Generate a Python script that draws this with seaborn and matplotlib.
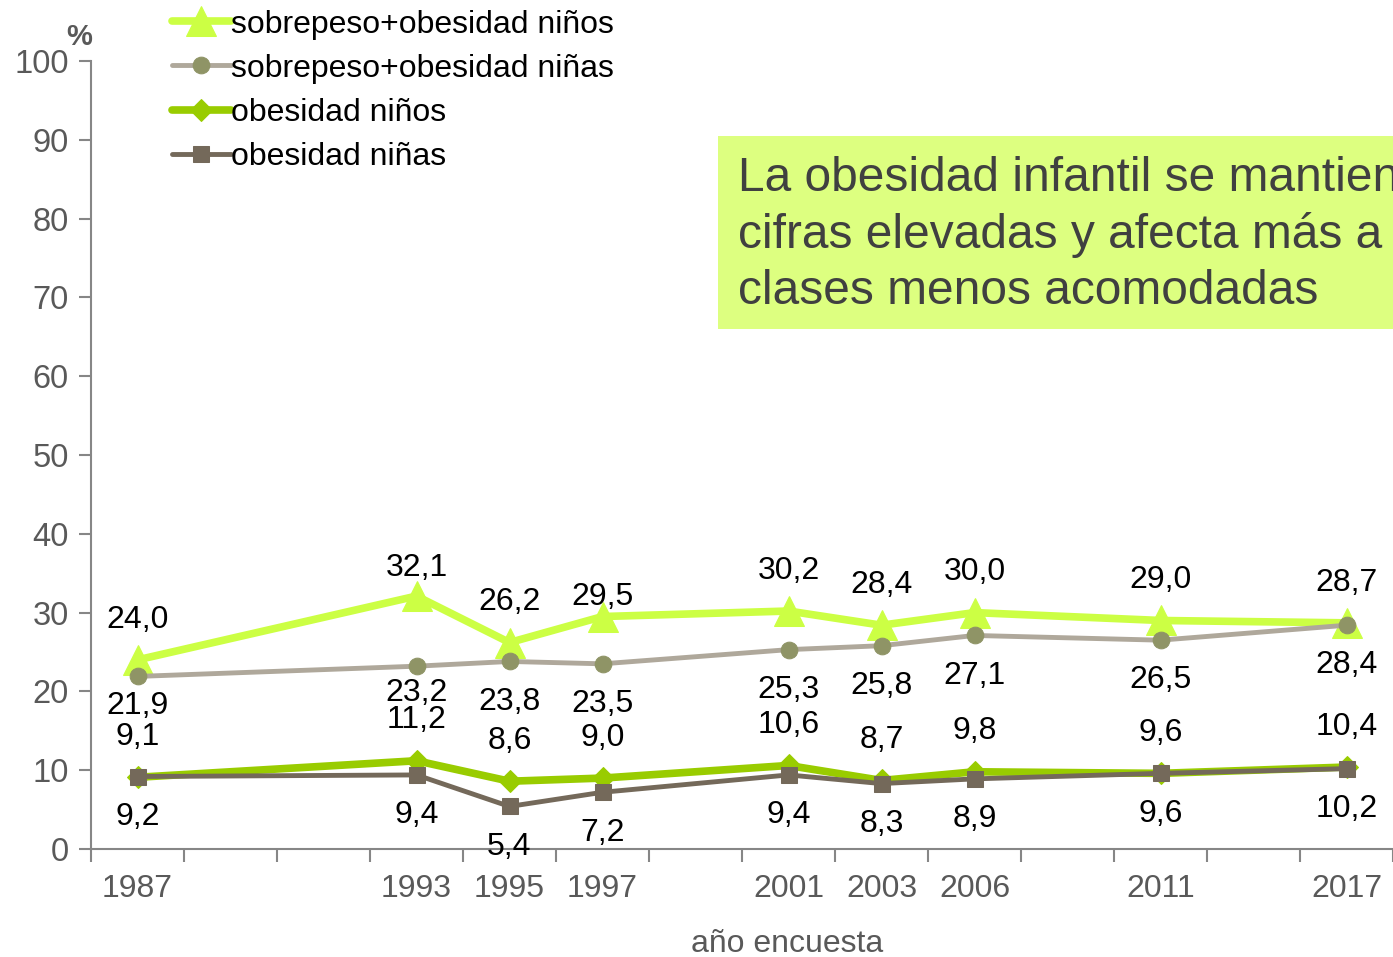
import numpy as np
import pandas as pd
import seaborn as sns
import matplotlib.pyplot as plt
from matplotlib.patches import Rectangle

# category axis of the original chart (blank slots included)
categories = ['1987', '', '', '1993', '1995', '1997', '', '2001', '2003', '2006', '', '2011', '', '2017']
years = ['1987', '1993', '1995', '1997', '2001', '2003', '2006', '2011', '2017']

sob_ninos = [24.0, 32.1, 26.2, 29.5, 30.2, 28.4, 30.0, 29.0, 28.7]
sob_ninas = [21.9, 23.2, 23.8, 23.5, 25.3, 25.8, 27.1, 26.5, 28.4]
obe_ninos = [9.1, 11.2, 8.6, 9.0, 10.6, 8.7, 9.8, 9.6, 10.4]
obe_ninas = [9.2, 9.4, 5.4, 7.2, 9.4, 8.3, 8.9, 9.6, 10.2]

names = ['sobrepeso+obesidad niños', 'sobrepeso+obesidad niñas', 'obesidad niños', 'obesidad niñas']

sns.set_theme(style='white')
plt.rcParams['font.family'] = ['Liberation Sans', 'DejaVu Sans']

x_pos = [categories.index(y) for y in years]
df = pd.DataFrame({'x': x_pos * 4,
                   'valor': sob_ninos + sob_ninas + obe_ninos + obe_ninas,
                   'serie': np.repeat(names, len(years))})

fig = plt.figure(figsize=(13.93, 9.57), dpi=100)
ax = fig.add_axes([91 / 1393, 1 - 849 / 957, 1 - 91 / 1393, (849 - 61) / 957])

# style per series: line colour, marker, marker colour, line width, marker size, label side
styles = {
    names[0]: ('#ccff44', '^', '#ccff44', 5.5, 21, 1),
    names[1]: ('#afa89b', 'o', '#8f9466', 3.5, 12, -1),
    names[2]: ('#99cc00', 'D', '#99cc00', 5.5, 11, 1),
    names[3]: ('#74695a', 's', '#74695a', 3.5, 12, -1),
}
# a few labels sit closer to their point in the original
label_shift = {(names[0], '1993'): 20, (names[0], '1997'): 14,
               (names[1], '1987'): 21, (names[1], '1993'): 19}

for name in names:
    col, mk, mcol, lw, ms, side = styles[name]
    sub = df[df['serie'] == name]
    sns.lineplot(data=sub, x='x', y='valor', ax=ax, color=col, lw=lw,
                 marker=mk, markersize=ms, markerfacecolor=mcol, markeredgecolor=mcol,
                 label=name, zorder=3)
    for yr, xv, v in zip(years, sub['x'], sub['valor']):
        off = label_shift.get((name, yr), 29)
        ax.annotate(f'{v:.1f}'.replace('.', ','), (xv, v), xytext=(0, side * off),
                    textcoords='offset points', ha='center', va='center',
                    fontsize=23, color='black', zorder=5, annotation_clip=False)

ax.set_xlim(-0.5, len(categories) - 0.5)
ax.set_ylim(0, 100)
ax.set_yticks(range(0, 101, 10))
ax.set_xticks(np.arange(-0.5, len(categories), 1.0))
ax.set_xticklabels([])
ax.set_xticks([i for i, c in enumerate(categories) if c], minor=True)
ax.set_xticklabels([c for c in categories if c], minor=True)
ax.tick_params(axis='x', which='major', length=9, width=1.5, color='#868686', direction='out', bottom=True)
ax.tick_params(axis='x', which='minor', length=0, labelsize=23, labelcolor='#595959', pad=18)
ax.tick_params(axis='y', length=9, width=1.5, color='#868686', direction='out', left=True,
               labelsize=23.5, labelcolor='#595959', pad=7)
sns.despine(ax=ax, top=True, right=True)
for s in ['left', 'bottom']:
    ax.spines[s].set_color('#868686')
    ax.spines[s].set_linewidth(1.5)
ax.set_xlabel('')
ax.set_ylabel('')
fig.text(787 / 1393, 1 - 944 / 957, 'año encuesta', fontsize=23, color='#595959',
         ha='center', va='center')

fig.text(79 / 1393, 1 - 37 / 957, '%', fontsize=21, fontweight='bold', color='#595959',
         ha='center', va='center')

leg = ax.legend(loc='upper left', bbox_to_anchor=(170 / 1393, 1 - 8 / 957), bbox_transform=fig.transFigure,
                frameon=False, fontsize=23, handlelength=1.85, handletextpad=0.0,
                labelspacing=0.44, borderpad=0.05, borderaxespad=0)
for t in leg.get_texts():
    t.set_color('black')

# highlighted message box on the right (text runs past the right edge, as in the source)
fig.patches.append(Rectangle((718 / 1393, 1 - 329 / 957), 0.5, (329 - 136) / 957,
                             transform=fig.transFigure, facecolor='#ddff80', edgecolor='none', zorder=0))
fig.text(738 / 1393, 1 - 235 / 957,
         'La obesidad infantil se mantiene en\ncifras elevadas y afecta más a las\nclases menos acomodadas',
         fontsize=34.5, color='#404040', ha='left', va='center', linespacing=1.31)

fig.savefig('out.png', dpi=100)
